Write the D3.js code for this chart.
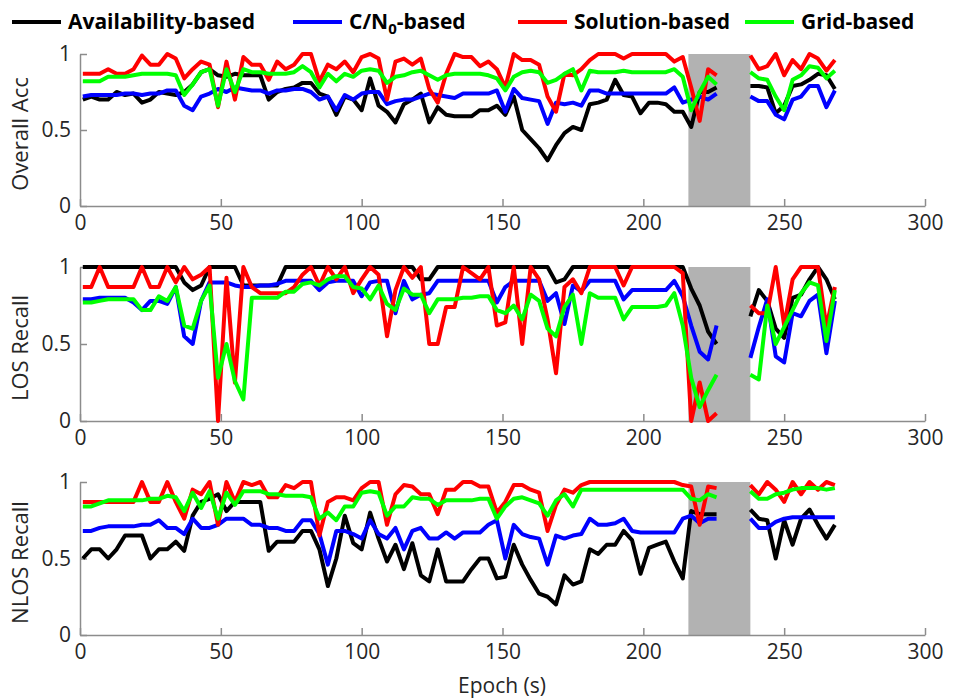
<!DOCTYPE html>
<html>
<head>
<meta charset="utf-8">
<script src="https://cdn.jsdelivr.net/npm/d3@7"></script>
<style>
  body { margin: 0; background: #fff; }
  text { font-family: "Open Sans", sans-serif; }
</style>
</head>
<body>
<svg id="chart" width="955" height="700"></svg>
<script>
// epochs (every 3 s), gap where the grey box is
const epochs = [1,4,7,10,13,16,19,22,25,28, 31,34,37,40,43,46,49,52,55,58,
  61,64,67,70,73,76,79,82,85,88, 91,94,97,100,103,106,109,112,115,118,
  121,124,127,130,133,136,139,142,145,148, 151,154,157,160,163,166,169,172,175,178,
  181,184,187,190,193,196,199,202,205,208, 211,214,217,220,223,226,
  238,241,244,247,250,253,256,259,262,265,268];
const gapBox = [216, 238];
const xTicks = [0, 50, 100, 150, 200, 250, 300];
const yTicks = [0, 0.5, 1];

const seriesNames = ["Availability-based", "C/N0-based", "Solution-based", "Grid-based"];
const seriesColors = ["#000000", "#0000ff", "#ff0000", "#00ff00"];
const panelLabels = ["Overall Acc", "LOS Recall", "NLOS Recall"];

// Overall accuracy
const accAvail = [.70,.72,.70,.70,.75,.73,.74,.68,.70,.75, .74,.73,.75,.80,.88,.90,.86,.85,.87,.86,
  .86,.86,.70,.75,.77,.78,.81,.81,.74,.72, .60,.72,.70,.63,.84,.66,.62,.55,.67,.70,
  .74,.55,.65,.60,.59,.59,.59,.63,.63,.66, .60,.72,.50,.44,.38,.30,.40,.48,.52,.50,
  .67,.68,.70,.83,.73,.72,.61,.68,.68,.67, .62,.62,.52,.75,.75,.78,
  .79,.79,.78,.61,.66,.79,.80,.83,.87,.86,.77];
const accCn0 = [.72,.73,.73,.73,.73,.74,.74,.73,.74,.74, .76,.76,.66,.63,.72,.74,.77,.75,.78,.77,
  .76,.76,.74,.76,.76,.77,.77,.75,.70,.72, .63,.73,.70,.74,.75,.75,.67,.69,.70,.70,
  .72,.74,.73,.72,.71,.74,.74,.74,.74,.76, .62,.77,.71,.70,.69,.54,.68,.67,.68,.66,
  .76,.76,.74,.74,.74,.74,.74,.74,.74,.74, .78,.68,.70,.72,.70,.74,
  .72,.69,.69,.60,.57,.70,.72,.79,.79,.65,.76];
const accSol = [.87,.87,.87,.90,.87,.87,.90,.99,.93,.93, 1,.97,.84,.90,.95,.93,.65,.95,.70,.98,
  .93,.93,.83,.95,.90,.93,1,1,.82,.93, .90,.95,.88,.98,1,.97,.70,.95,.97,.93,
  .97,.77,.68,.87,1,.98,.98,.92,.95,.90, .78,1,.96,.96,.93,.72,.62,.87,.86,.90,
  .96,1,1,1,.97,1,1,1,1,1, .95,.98,.78,.56,.90,.86,
  .99,.90,.92,1,.86,.96,.90,1,.97,.89,.96];
const accGrid = [.82,.82,.82,.85,.85,.85,.86,.87,.87,.87, .87,.86,.73,.80,.88,.90,.66,.90,.75,.90,
  .88,.88,.87,.87,.87,.88,.92,.88,.78,.87, .82,.87,.85,.89,.90,.89,.81,.85,.86,.88,
  .89,.86,.83,.86,.87,.87,.87,.87,.86,.84, .76,.85,.88,.89,.88,.81,.83,.87,.90,.76,
  .89,.88,.88,.88,.89,.88,.88,.88,.88,.88, .90,.85,.63,.75,.85,.80,
  .88,.84,.83,.72,.63,.83,.86,.92,.91,.84,.89];

// LOS recall
const losAvail = [1,1,1,1,1,1,1,1,1,1, 1,1,.90,.85,.88,1,1,1,1,.88,
  .88,.88,.88,.88,1,1,1,1,1,1, 1,1,1,1,1,1,1,1,1,1,
  .92,.92,1,1,1,1,1,1,1,1, 1,1,1,1,1,1,.90,.92,1,1,
  1,1,1,1,1,1,1,1,1,1, 1,1,.86,.75,.58,.50,
  .68,.85,.78,.60,.54,.80,.82,.92,1,.92,.79];
const losCn0 = [.79,.79,.80,.80,.80,.80,.77,.72,.78,.78, .76,.87,.55,.50,.78,.90,.90,.90,.88,.87,
  .87,.88,.88,.89,.91,.91,.91,.91,.85,.90, .91,.91,.91,.81,.90,.91,.91,.70,.91,.79,
  .82,.83,.91,.91,.91,.91,.91,.91,.91,.77, .87,.91,.91,.91,.91,.78,.83,.63,.88,.84,
  .91,.91,.91,.91,.79,.85,.85,.85,.85,.85, .91,.81,.62,.45,.40,.62,
  .41,.61,.79,.42,.38,.70,.68,.78,.82,.44,.78];
const losSol = [.87,.87,1,.87,.87,.87,.87,1,.87,.87, 1,.90,1,.92,.95,1,0,.93,.25,1,
  .87,.83,.83,.83,.83,.87,.95,1,.88,1, .92,1,.83,.92,1,.95,.55,.85,1,.93,
  1,.50,.50,.74,.74,1,.96,.92,1,.62, .64,1,.50,1,.92,.66,.31,.87,.92,.83,
  1,1,1,1,.88,1,1,1,1,1, 1,.96,0,.25,0,.05,
  .75,.70,.70,1,.62,.92,1,1,1,.61,.87];
const losGrid = [.77,.77,.78,.79,.79,.79,.79,.72,.72,.81, .78,.87,.62,.60,.78,.88,.28,.50,.26,.14,
  .80,.80,.80,.80,.84,.84,.89,.90,.88,.92, .94,.94,.87,.86,.79,.88,.76,.72,.86,.82,
  .82,.70,.79,.79,.79,.80,.80,.81,.81,.72, .70,.75,.66,.82,.78,.60,.55,.74,.82,.50,
  .83,.80,.80,.80,.66,.74,.74,.74,.74,.75, .83,.62,.28,.09,.20,.30,
  .30,.27,.75,.50,.61,.72,.83,.90,.88,.52,.85];

// NLOS recall
const nlosAvail = [.50,.56,.56,.50,.56,.65,.65,.65,.50,.56, .56,.61,.55,.78,.87,.89,.92,.81,.87,.87,
  .87,.87,.55,.61,.61,.61,.68,.68,.56,.32, .50,.78,.60,.56,.80,.63,.48,.59,.43,.60,
  .39,.35,.56,.35,.35,.35,.43,.50,.50,.37, .38,.59,.46,.36,.27,.25,.20,.39,.33,.35,
  .56,.53,.59,.59,.68,.62,.40,.57,.59,.61, .48,.37,.81,.79,.79,.79,
  .82,.76,.75,.50,.75,.59,.76,.82,.72,.63,.72];
const nlosCn0 = [.68,.68,.70,.71,.71,.71,.71,.72,.72,.75, .70,.70,.66,.76,.70,.70,.72,.76,.76,.76,
  .72,.72,.70,.70,.68,.68,.75,.75,.66,.46, .68,.68,.66,.63,.75,.66,.63,.70,.56,.68,
  .70,.63,.63,.67,.63,.67,.67,.67,.72,.75, .50,.72,.66,.64,.63,.46,.65,.63,.65,.66,
  .76,.72,.72,.73,.76,.68,.67,.67,.67,.67, .67,.76,.78,.73,.76,.76,
  .76,.70,.70,.74,.76,.77,.77,.77,.77,.77,.77];
const nlosSol = [.87,.87,.87,.87,.87,.87,.87,1,.87,.87, 1,.87,.76,.95,.92,1,.72,1,.87,1,
  .98,1,.90,.90,.98,.96,1,1,.65,.87, .90,.90,.88,.96,1,1,.72,.92,.98,.97,
  .92,.92,.79,.95,.95,1,1,.97,.97,.80, .87,.98,.98,.95,.93,.68,.85,.95,.93,.98,
  1,1,1,1,1,1,1,1,1,1, 1,.98,.97,.72,.97,.96,
  .98,.92,1,.95,.87,1,.92,1,.95,1,.98];
const nlosGrid = [.84,.84,.86,.88,.88,.88,.88,.88,.89,.89, .91,.90,.81,.93,.83,.94,.76,.93,.85,.94,
  .94,.94,.92,.92,.91,.91,.91,.90,.76,.80, .75,.84,.84,.93,.94,.93,.78,.84,.84,.90,
  .89,.89,.85,.88,.88,.88,.88,.89,.89,.76, .84,.89,.90,.88,.86,.78,.88,.92,.84,.95,
  .95,.95,.95,.95,.95,.95,.95,.95,.95,.95, .95,.95,.89,.88,.92,.90,
  .94,.89,.89,.92,.93,.95,.96,.96,.96,.95,.96];

const panels = [
  { label: panelLabels[0], top: 54, bottom: 206, series: [accAvail, accCn0, accSol, accGrid] },
  { label: panelLabels[1], top: 267, bottom: 421, series: [losAvail, losCn0, losSol, losGrid] },
  { label: panelLabels[2], top: 482, bottom: 635, series: [nlosAvail, nlosCn0, nlosSol, nlosGrid] }
];

const svg = d3.select("#chart");
const xs = d3.scaleLinear().domain([0, 300]).range([80, 925]);

panels.forEach(function(p) {
  const ys = d3.scaleLinear().domain([0, 1]).range([p.bottom, p.top]);
  const g = svg.append("g");

  // grey box (missing epochs)
  g.append("rect")
    .attr("x", xs(gapBox[0]))
    .attr("y", ys(1))
    .attr("width", xs(gapBox[1]) - xs(gapBox[0]))
    .attr("height", ys(0) - ys(1))
    .attr("fill", "#b2b2b2");

  // axes, matlab-ish ticks pointing inwards
  const xa = g.append("g")
    .attr("transform", "translate(0," + p.bottom + ")")
    .call(d3.axisBottom(xs).tickValues(xTicks).tickSizeInner(-7).tickSizeOuter(0).tickPadding(9));
  const ya = g.append("g")
    .attr("transform", "translate(80,0)")
    .call(d3.axisLeft(ys).tickValues(yTicks).tickFormat(d3.format("")).tickSizeInner(-7).tickSizeOuter(0).tickPadding(9));
  [xa, ya].forEach(function(a) {
    a.select(".domain").attr("stroke", "#8c8c8c").attr("stroke-width", 1.5);
    a.selectAll(".tick line").attr("stroke", "#8c8c8c").attr("stroke-width", 1.5);
    a.selectAll(".tick text").attr("font-size", 21).attr("fill", "#262626")
      .attr("font-family", "Open Sans, sans-serif");
  });

  // lines, split at the gap
  const line = d3.line().x(d => xs(d.e)).y(d => ys(d.v));
  p.series.forEach(function(vals, si) {
    const pts = epochs.map((e, i) => ({ e: e, v: vals[i] }));
    const segs = [pts.filter(d => d.e < gapBox[1]), pts.filter(d => d.e >= gapBox[1])];
    segs.forEach(function(seg) {
      g.append("path")
        .datum(seg)
        .attr("d", line)
        .attr("fill", "none")
        .attr("stroke", seriesColors[si])
        .attr("stroke-width", 4)
        .attr("stroke-linejoin", "round");
    });
  });

  g.append("text")
    .attr("transform", "translate(28," + ((p.top + p.bottom) / 2 + 4) + ") rotate(-90)")
    .attr("text-anchor", "middle")
    .attr("font-size", 22)
    .attr("fill", "#262626")
    .text(p.label);
});

svg.append("text")
  .attr("x", 502)
  .attr("y", 693)
  .attr("text-anchor", "middle")
  .attr("font-size", 21)
  .attr("fill", "#262626")
  .text("Epoch (s)");

// legend
const legX = [12, 293, 518, 745];
seriesNames.forEach(function(name, i) {
  svg.append("line")
    .attr("x1", legX[i]).attr("x2", legX[i] + 49)
    .attr("y1", 22).attr("y2", 22)
    .attr("stroke", seriesColors[i]).attr("stroke-width", 4);
  const t = svg.append("text")
    .attr("x", legX[i] + 56)
    .attr("y", 29)
    .attr("font-size", 21)
    .attr("font-weight", "bold")
    .attr("fill", "#000");
  if (name === "C/N0-based") {
    t.append("tspan").text("C/N");
    t.append("tspan").attr("font-size", 15).attr("dy", 5).text("0");
    t.append("tspan").attr("dy", -5).text("-based");
  } else {
    t.text(name);
  }
});
</script>
</body>
</html>
